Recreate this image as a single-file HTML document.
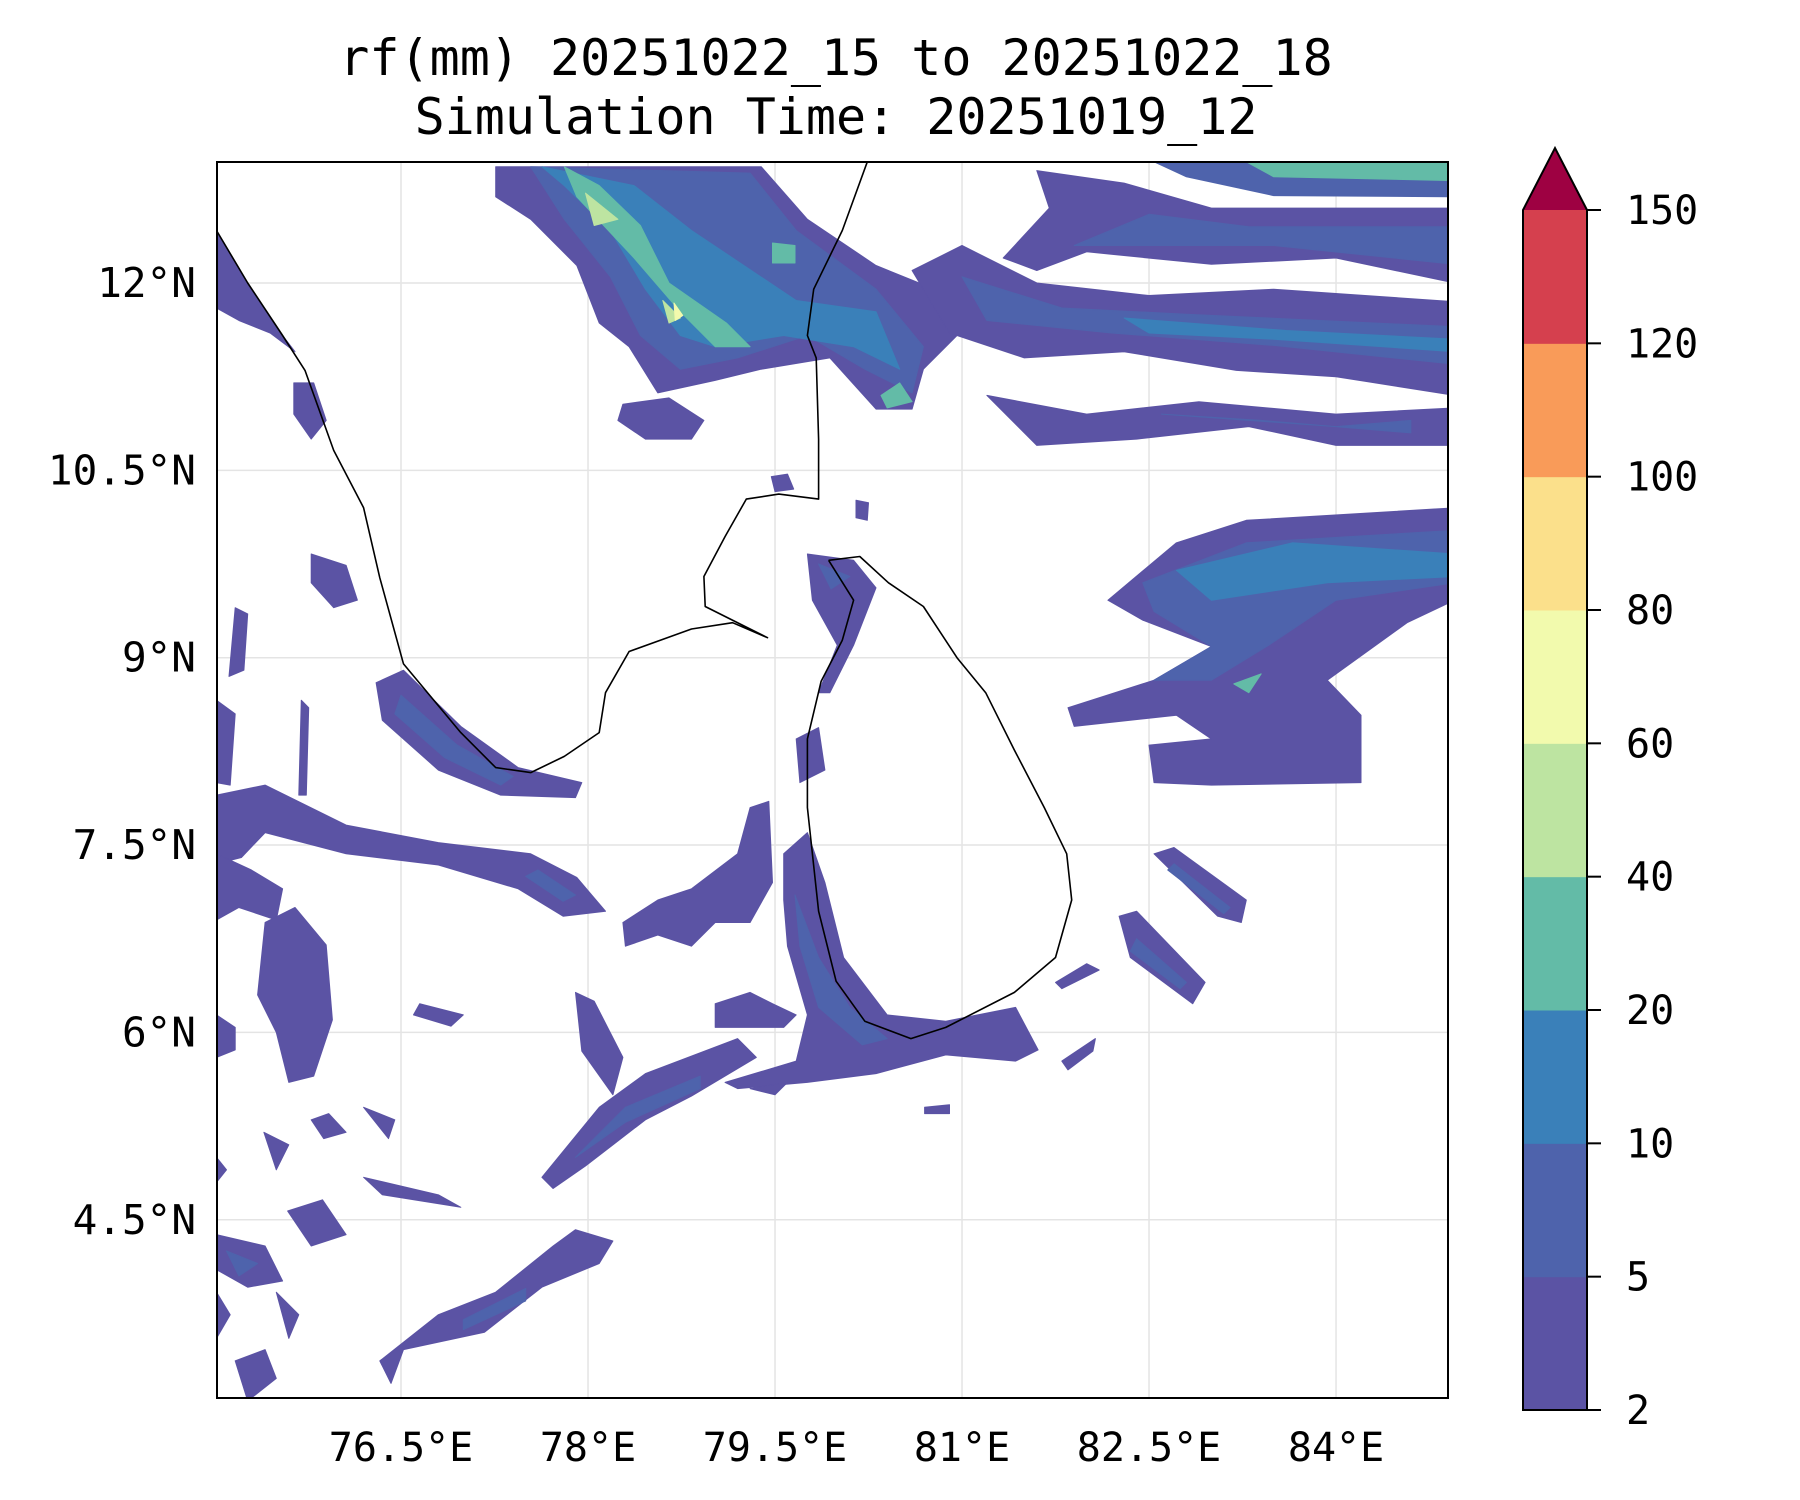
<!DOCTYPE html>
<html><head><meta charset="utf-8">
<style>
html,body{margin:0;padding:0;background:#fff;}
svg{display:block;}
text{font-family:"DejaVu Sans Mono","Liberation Mono",monospace;fill:#000;}
</style></head>
<body>
<svg id="chart" width="1800" height="1500" viewBox="0 0 1800 1500" xmlns="http://www.w3.org/2000/svg">
  <text x="836" y="75" font-size="50" text-anchor="middle">rf(mm) 20251022_15 to 20251022_18</text>
  <text x="836" y="134" font-size="50" text-anchor="middle">Simulation Time: 20251019_12</text>
  <defs><clipPath id="plotclip"><rect x="217" y="162" width="1231" height="1236"/></clipPath></defs>
  <g id="grid"></g>
  <g id="fields" clip-path="url(#plotclip)"></g>
  <g id="coast" clip-path="url(#plotclip)"></g>
  <rect x="217" y="162" width="1231" height="1236" fill="none" stroke="#000" stroke-width="2"/>
  <g id="xticks"></g>
  <g id="yticks"></g>
  <g id="cbar"></g>
</svg>
<script>
const lonTicks = [76.5, 78, 79.5, 81, 82.5, 84];
const lonLabels = ["76.5°E","78°E","79.5°E","81°E","82.5°E","84°E"];
const latTicks = [12, 10.5, 9, 7.5, 6, 4.5];
const latLabels = ["12°N","10.5°N","9°N","7.5°N","6°N","4.5°N"];
const levelBounds = [2, 5, 10, 20, 40, 60, 80, 100, 120, 150];
const levelColors = ["#5b53a4","#4e63ac","#3a80b9","#63bba7","#bde4a1","#f2faad","#fbe08b","#f99b59","#d5404e"];
const extendColor = "#9e0142";

const fieldLevels = [0,1,2,3,3,3,4,4,5, 1,3, 0,1,0,1,2,0,1, 0,1,2,3, 0,1,0,1, 0,1, 0,1, 0,1,0,1,0, 0,1,0, 0,1, 0,0,0,0,0,0,0, 0,0,0,0, 0,0,0,0,0,0,0,0,0,0,0,0,1, 0,0,0,0,0,0];
const fieldShapes = [
 [[77.26,12.93],[79.39,12.93],[79.76,12.51],[80.31,12.14],[80.78,11.95],[80.96,11.58],[80.69,11.31],[80.6,10.99],[80.31,10.99],[79.94,11.4],[79.39,11.31],[79.02,11.22],[78.56,11.12],[78.33,11.49],[78.09,11.68],[77.91,12.14],[77.54,12.51],[77.26,12.69]],
 [[77.54,12.93],[79.3,12.88],[79.67,12.42],[80.31,11.95],[80.69,11.49],[80.6,11.12],[80.22,11.31],[79.76,11.58],[79.2,11.4],[78.74,11.31],[78.42,11.58],[78.18,12.05],[77.81,12.51]],
 [[77.63,12.93],[78.37,12.78],[78.83,12.42],[79.67,11.86],[80.31,11.77],[80.5,11.31],[80.13,11.49],[79.57,11.58],[79.02,11.49],[78.74,11.58],[78.46,11.95],[78.18,12.42],[77.81,12.78]],
 [[77.81,12.93],[78.09,12.78],[78.42,12.46],[78.65,12.0],[79.11,11.68],[79.3,11.49],[79.02,11.49],[78.74,11.77],[78.37,12.2],[77.91,12.69]],
 [[79.48,12.32],[79.66,12.3],[79.66,12.16],[79.48,12.16]],
 [[80.35,11.1],[80.5,11.2],[80.6,11.05],[80.4,11.0]],
 [[77.98,12.72],[78.24,12.51],[78.05,12.46]],
 [[78.6,11.86],[78.74,11.72],[78.65,11.68]],
 [[78.69,11.84],[78.76,11.74],[78.7,11.7]],
 [[82.54,12.97],[84.95,12.97],[84.95,12.69],[83.5,12.7],[82.8,12.85]],
 [[83.28,12.97],[84.95,12.97],[84.95,12.82],[83.5,12.85]],
 [[81.33,12.2],[81.7,12.6],[81.6,12.9],[82.3,12.8],[83.0,12.6],[84.95,12.6],[84.95,12.0],[84.0,12.2],[83.0,12.15],[82.0,12.25],[81.6,12.1]],
 [[81.9,12.3],[82.5,12.55],[83.3,12.45],[84.95,12.45],[84.95,12.15],[83.5,12.3],[82.5,12.3]],
 [[80.6,12.1],[81.0,12.3],[81.6,12.0],[82.5,11.9],[83.5,11.95],[84.95,11.85],[84.95,11.1],[84.0,11.25],[83.2,11.3],[82.3,11.45],[81.5,11.4],[80.9,11.6]],
 [[81.0,12.05],[81.8,11.8],[82.8,11.75],[84.95,11.65],[84.95,11.35],[83.5,11.5],[82.2,11.6],[81.2,11.7]],
 [[82.3,11.72],[83.6,11.62],[84.95,11.55],[84.95,11.45],[83.5,11.55],[82.5,11.6]],
 [[81.2,11.1],[82.0,10.95],[82.9,11.05],[84.0,10.95],[84.95,11.0],[84.95,10.7],[84.0,10.7],[83.3,10.85],[82.4,10.75],[81.6,10.7]],
 [[82.6,10.95],[84.0,10.85],[84.6,10.9],[84.6,10.8],[83.4,10.9]],
 [[82.17,9.46],[82.72,9.92],[83.28,10.1],[84.95,10.2],[84.95,9.46],[84.57,9.28],[83.93,8.82],[84.2,8.54],[84.2,8.0],[83.0,7.98],[82.54,8.0],[82.5,8.3],[83.0,8.35],[82.72,8.54],[81.9,8.45],[81.85,8.6],[82.54,8.82],[83.0,9.09],[82.45,9.3]],
 [[82.45,9.6],[83.28,9.92],[84.95,10.02],[84.95,9.6],[84.0,9.46],[83.46,9.1],[83.0,8.82],[82.54,8.82],[83.0,9.09],[82.54,9.37]],
 [[82.72,9.7],[83.65,9.92],[84.95,9.83],[84.95,9.65],[83.93,9.6],[83.0,9.46]],
 [[83.18,8.79],[83.4,8.87],[83.3,8.72]],
 [[82.54,7.43],[82.7,7.48],[83.28,7.06],[83.24,6.88],[83.05,6.93]],
 [[82.7,7.35],[83.15,7.0],[83.1,6.95],[82.65,7.3]],
 [[82.26,6.93],[82.4,6.97],[82.95,6.4],[82.85,6.23],[82.35,6.6]],
 [[82.4,6.75],[82.8,6.4],[82.75,6.35],[82.35,6.65]],
 [[76.3,8.8],[76.52,8.9],[76.98,8.45],[77.44,8.12],[77.95,8.0],[77.9,7.88],[77.3,7.9],[76.8,8.1],[76.35,8.5]],
 [[76.5,8.7],[76.95,8.3],[77.4,8.05],[77.3,7.98],[76.85,8.2],[76.45,8.55]],
 [[75.02,7.9],[75.41,7.98],[76.06,7.66],[76.8,7.52],[77.54,7.43],[77.91,7.24],[78.14,6.97],[77.8,6.93],[77.44,7.15],[76.8,7.34],[76.06,7.43],[75.41,7.6],[75.22,7.4],[75.02,7.35]],
 [[77.6,7.3],[77.9,7.1],[77.8,7.05],[77.5,7.25]],
 [[79.57,7.43],[79.76,7.6],[79.9,7.2],[80.05,6.6],[80.4,6.14],[80.87,6.09],[81.43,6.2],[81.61,5.86],[81.43,5.77],[80.87,5.82],[80.31,5.67],[79.76,5.6],[79.2,5.55],[79.1,5.6],[79.67,5.77],[79.76,6.14],[79.6,6.69],[79.57,7.06]],
 [[79.66,7.1],[79.85,6.6],[80.1,6.2],[80.4,5.95],[80.2,5.9],[79.85,6.2],[79.7,6.69]],
 [[79.76,9.83],[80.13,9.78],[80.31,9.56],[80.13,9.1],[79.94,8.72],[79.85,8.72],[80.0,9.1],[79.8,9.46]],
 [[79.85,9.75],[80.1,9.65],[79.95,9.55]],
 [[79.67,8.35],[79.85,8.44],[79.9,8.1],[79.7,8.0]],
 [[77.63,4.84],[78.09,5.4],[78.46,5.67],[79.2,5.95],[79.35,5.8],[78.83,5.49],[78.46,5.3],[77.98,4.93],[77.72,4.75]],
 [[77.9,5.0],[78.3,5.4],[78.9,5.65],[78.9,5.55],[78.3,5.28]],
 [[77.9,6.32],[78.05,6.25],[78.28,5.8],[78.2,5.5],[77.95,5.85]],
 [[76.33,3.37],[76.8,3.74],[77.26,3.92],[77.72,4.29],[77.9,4.42],[78.2,4.33],[78.09,4.15],[77.63,3.96],[77.17,3.6],[76.52,3.46],[76.42,3.19]],
 [[77.0,3.7],[77.5,3.95],[77.5,3.85],[77.0,3.62]],
 [[78.56,7.06],[78.83,7.15],[79.2,7.43],[79.3,7.8],[79.45,7.85],[79.48,7.2],[79.3,6.88],[79.02,6.88],[78.83,6.69],[78.56,6.78],[78.3,6.69],[78.28,6.88]],
 [[79.02,6.23],[79.3,6.32],[79.48,6.23],[79.67,6.14],[79.57,6.04],[79.02,6.04]],
 [[78.28,11.03],[78.65,11.08],[78.93,10.9],[78.83,10.75],[78.46,10.75],[78.24,10.9]],
 [[75.78,9.83],[76.06,9.74],[76.15,9.46],[75.96,9.4],[75.78,9.6]],
 [[75.64,11.2],[75.8,11.2],[75.9,10.9],[75.78,10.75],[75.64,10.95]],
 [[79.47,10.45],[79.6,10.47],[79.65,10.35],[79.5,10.33]],
 [[80.15,10.26],[80.25,10.24],[80.24,10.1],[80.15,10.12]],
 [[75.02,12.42],[75.27,12.0],[75.55,11.58],[75.65,11.45],[75.45,11.6],[75.2,11.7],[75.02,11.8]],
 [[75.17,9.4],[75.27,9.35],[75.24,8.9],[75.12,8.85]],
 [[75.02,8.66],[75.17,8.55],[75.13,7.98],[75.02,8.0]],
 [[75.7,8.66],[75.76,8.6],[75.74,7.9],[75.68,7.9]],
 [[75.02,7.43],[75.3,7.3],[75.55,7.15],[75.5,6.9],[75.2,7.0],[75.02,6.9]],
 [[75.41,6.88],[75.65,7.0],[75.9,6.7],[75.95,6.1],[75.8,5.65],[75.6,5.6],[75.5,6.0],[75.35,6.3]],
 [[75.02,6.14],[75.17,6.04],[75.17,5.86],[75.02,5.8]],
 [[75.02,4.38],[75.41,4.29],[75.55,4.01],[75.27,3.96],[75.02,4.1]],
 [[75.59,4.57],[75.87,4.66],[76.06,4.38],[75.78,4.29]],
 [[75.02,3.92],[75.13,3.74],[75.02,3.55]],
 [[75.17,3.37],[75.41,3.46],[75.5,3.23],[75.27,3.05]],
 [[76.2,4.84],[76.8,4.7],[76.98,4.6],[76.35,4.7]],
 [[75.5,3.92],[75.68,3.74],[75.6,3.55]],
 [[75.78,5.3],[75.92,5.35],[76.06,5.2],[75.88,5.15]],
 [[75.02,5.0],[75.1,4.9],[75.02,4.8]],
 [[75.4,5.2],[75.6,5.1],[75.5,4.9]],
 [[75.1,4.25],[75.35,4.15],[75.2,4.05]],
 [[76.65,6.23],[77.0,6.14],[76.9,6.05],[76.6,6.14]],
 [[81.8,6.35],[82.1,6.5],[82.0,6.55],[81.75,6.4]],
 [[81.8,5.77],[82.07,5.95],[82.05,5.85],[81.85,5.7]],
 [[80.7,5.4],[80.9,5.42],[80.9,5.35],[80.7,5.35]],
 [[79.3,5.55],[79.6,5.6],[79.5,5.5]],
 [[76.2,5.4],[76.45,5.3],[76.4,5.15]]
];

const indiaCoast = [[75.0,12.55],[75.02,12.42],[75.27,12.0],[75.55,11.58],[75.73,11.3],[75.96,10.66],[76.2,10.2],[76.33,9.64],[76.52,8.95],[76.98,8.4],[77.26,8.12],[77.54,8.08],[77.81,8.21],[78.09,8.4],[78.14,8.72],[78.33,9.05],[78.83,9.23],[79.16,9.28],[79.44,9.16],[79.3,9.23],[78.94,9.41],[78.93,9.65],[79.1,9.97],[79.27,10.27],[79.53,10.31],[79.85,10.27],[79.85,10.75],[79.83,11.4],[79.76,11.58],[79.81,11.95],[80.04,12.42],[80.24,12.97]];
const lankaCoast = [[79.93,9.78],[80.18,9.81],[80.41,9.6],[80.69,9.41],[80.96,9.0],[81.19,8.72],[81.42,8.26],[81.66,7.8],[81.84,7.43],[81.88,7.06],[81.75,6.6],[81.42,6.32],[80.87,6.04],[80.59,5.95],[80.22,6.09],[79.99,6.41],[79.85,6.97],[79.76,7.8],[79.76,8.35],[79.87,8.81],[80.04,9.14],[80.13,9.46],[79.93,9.78]];

const NS = "http://www.w3.org/2000/svg";
const X0 = 217, X1 = 1448, Y0 = 162, Y1 = 1398;
function xs(lon){ return 401 + (lon - 76.5) * 124.67; }
function ys(lat){ return 283 + (12 - lat) * 124.9; }
function pts(arr){ return arr.map(p => xs(p[0]).toFixed(1) + "," + ys(p[1]).toFixed(1)).join(" "); }
function mk(tag, attrs){ const e = document.createElementNS(NS, tag); for (const k in attrs) e.setAttribute(k, attrs[k]); return e; }

const grid = document.getElementById("grid");
lonTicks.forEach((lon, i) => {
  const l = mk("line", {x1: xs(lon), x2: xs(lon), y1: Y0, y2: Y1, stroke: "#e4e4e4", "stroke-width": 1.5});
  
  
  grid.appendChild(l);
  const t = mk("text", {x: xs(lon), y: 1461, "font-size": 40, "text-anchor": "middle"});
  t.textContent = lonLabels[i];
  
  
  document.getElementById("xticks").appendChild(t);
});
latTicks.forEach((lat, i) => {
  const l = mk("line", {x1: X0, x2: X1, y1: ys(lat), y2: ys(lat), stroke: "#e4e4e4", "stroke-width": 1.5});
  
  
  grid.appendChild(l);
  const t = mk("text", {x: 196, y: ys(lat) + 14, "font-size": 41, "text-anchor": "end"});
  t.textContent = latLabels[i];
  
  
  document.getElementById("yticks").appendChild(t);
});

const fields = document.getElementById("fields");
const order = fieldShapes.map((s, i) => i).sort((a, b) => fieldLevels[a] - fieldLevels[b]);
order.forEach(i => {
  const p = mk("polygon", {points: pts(fieldShapes[i]), fill: levelColors[fieldLevels[i]], stroke: levelColors[fieldLevels[i]], "stroke-width": 1, "stroke-linejoin": "round"});
  
  
  fields.appendChild(p);
});

const coast = document.getElementById("coast");
[indiaCoast, lankaCoast].forEach((c, i) => {
  const p = mk("polyline", {points: pts(c), fill: "none", stroke: "#000", "stroke-width": 1.6, "stroke-linejoin": "round"});
  
  
  coast.appendChild(p);
});

const cb = document.getElementById("cbar");
const CBX = 1523, CBW = 64, CBTOP = 210, CBBOT = 1410;
const step = (CBBOT - CBTOP) / (levelBounds.length - 1);
function cy(i){ return CBBOT - i * step; }
levelColors.forEach((c, i) => {
  const r = mk("rect", {x: CBX, y: cy(i + 1), width: CBW, height: step + 0.5, fill: c});
  
  
  cb.appendChild(r);
});
const tri = mk("polygon", {points: `${CBX},${CBTOP} ${CBX + CBW / 2},${CBTOP - 62} ${CBX + CBW},${CBTOP}`, fill: extendColor});


cb.appendChild(tri);
const outline = mk("polygon", {points: `${CBX},${CBBOT} ${CBX},${CBTOP} ${CBX + CBW / 2},${CBTOP - 62} ${CBX + CBW},${CBTOP} ${CBX + CBW},${CBBOT}`, fill: "none", stroke: "#000", "stroke-width": 2});


cb.appendChild(outline);
levelBounds.forEach((v, i) => {
  const tk = mk("line", {x1: CBX + CBW, x2: CBX + CBW + 14, y1: cy(i), y2: cy(i), stroke: "#000", "stroke-width": 2});
  
  
  cb.appendChild(tk);
  const t = mk("text", {x: 1626, y: cy(i) + 14, "font-size": 40});
  t.textContent = String(v);
  
  
  cb.appendChild(t);
});
</script>
</body></html>
